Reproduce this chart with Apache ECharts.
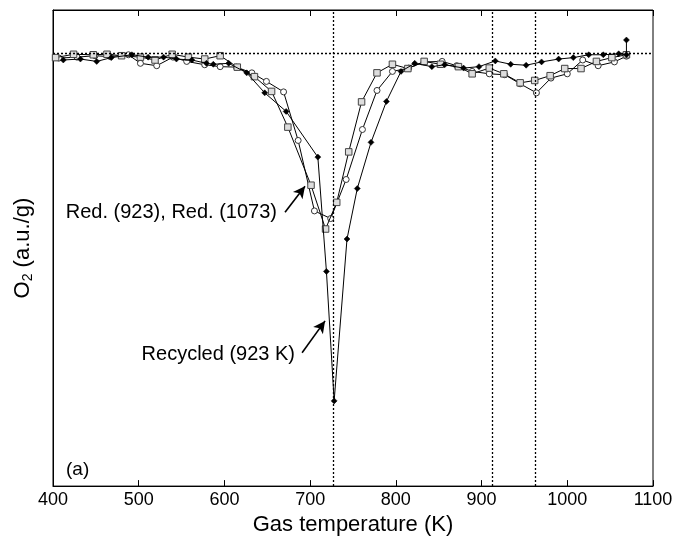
<!DOCTYPE html>
<html>
<head>
<meta charset="utf-8">
<script src="https://cdn.jsdelivr.net/npm/echarts@6/dist/echarts.min.js"></script>
<style>html,body{margin:0;padding:0;background:#fff}#c{width:677px;height:541px}</style>
</head>
<body>
<div id="c"></div>
<script>
const xTicks = [400, 500, 600, 700, 800, 900, 1000, 1100];
const refTemps = [727, 912, 963];
const refLevel = 0.906;

const tempRed923 = [403,424,447,463,480,502,519,539,558,577,595,615,635,655,674,701,718,731,745,760,778,796,814,833,852,873,889,909,926,945,962,980,997,1016,1034,1052,1069];
const o2Red923 = [0.900,0.907,0.906,0.907,0.904,0.901,0.895,0.907,0.901,0.897,0.904,0.880,0.860,0.829,0.754,0.632,0.540,0.596,0.702,0.807,0.868,0.886,0.877,0.892,0.886,0.881,0.866,0.878,0.866,0.847,0.852,0.862,0.877,0.877,0.892,0.900,0.906];

const tempRed1073 = [407,428,449,467,488,502,521,540,556,577,595,614,632,649,669,686,705,724,742,761,778,796,815,833,854,871,889,909,927,945,964,981,1000,1018,1036,1055,1069];
const o2Red1073 = [0.899,0.901,0.904,0.902,0.906,0.888,0.883,0.901,0.892,0.885,0.881,0.880,0.868,0.850,0.828,0.726,0.578,0.562,0.644,0.749,0.831,0.871,0.878,0.891,0.892,0.883,0.871,0.866,0.864,0.845,0.826,0.857,0.866,0.895,0.883,0.891,0.903];

const tempRecycled = [412,432,451,468,492,511,529,544,562,579,587,605,626,647,672,709,719,728,743,755,771,789,806,822,842,857,879,897,916,934,952,970,990,1007,1025,1042,1060,1069,1069];
const o2Recycled = [0.895,0.897,0.892,0.900,0.906,0.901,0.901,0.897,0.895,0.888,0.886,0.888,0.868,0.826,0.787,0.691,0.451,0.179,0.519,0.625,0.722,0.808,0.871,0.888,0.881,0.885,0.878,0.881,0.893,0.886,0.884,0.891,0.897,0.900,0.906,0.906,0.908,0.906,0.937];

const labelRed = 'Red. (923), Red. (1073)';
const labelRecycled = 'Recycled (923 K)';
const arrowRed = [[670.7, 0.575], [694, 0.630]];
const arrowRecycled = [[690.6, 0.280], [717.4, 0.347]];

const zip = (a, b) => a.map((v, i) => [v, b[i]]);
const FONT = 'Liberation Sans, Arial, Helvetica, sans-serif';

const chart = echarts.init(document.getElementById('c'), null, {renderer: 'canvas'});
const refLines = [{yAxis: refLevel}].concat(refTemps.map(t => ({xAxis: t})));

chart.setOption({
  animation: false,
  backgroundColor: '#fff',
  grid: {left: 53, right: 24, top: 10, bottom: 53, show: true, borderColor: '#000', borderWidth: 1, backgroundColor: 'transparent'},
  xAxis: [{
    type: 'value', min: xTicks[0], max: xTicks[xTicks.length - 1], interval: 100,
    name: 'Gas temperature (K)', nameLocation: 'middle', nameGap: 24,
    nameTextStyle: {fontSize: 22, color: '#000', fontFamily: FONT},
    axisLine: {show: true, onZero: false, lineStyle: {color: '#000', width: 1}},
    axisTick: {show: true, inside: true, length: 6, lineStyle: {color: '#000', width: 1}},
    axisLabel: {fontSize: 18, color: '#000', fontFamily: FONT, margin: 5, formatter: v => String(v)},
    splitLine: {show: false}
  }, {
    type: 'value', min: xTicks[0], max: xTicks[xTicks.length - 1], interval: 100, position: 'top',
    axisLine: {show: true, onZero: false, lineStyle: {color: '#000', width: 1}},
    axisTick: {show: true, inside: true, length: 6, lineStyle: {color: '#000', width: 1}},
    axisLabel: {show: false}, splitLine: {show: false}
  }],
  yAxis: {
    type: 'value', min: 0, max: 1,
    name: '{o|O}{s|2}{o| (a.u./g)}', nameLocation: 'middle', nameGap: 18, nameRotate: 90,
    nameTextStyle: {rich: {
      o: {fontSize: 22, color: '#000', fontFamily: FONT},
      s: {fontSize: 14, color: '#000', fontFamily: FONT, verticalAlign: 'bottom', padding: [10, 0, 0, 0]}
    }},
    axisLine: {show: true, onZero: false, lineStyle: {color: '#000', width: 1}},
    axisTick: {show: false}, axisLabel: {show: false}, splitLine: {show: false}
  },
  series: [{
    name: 'Red. (1073)', type: 'line', data: zip(tempRed1073, o2Red1073),
    symbol: 'circle', symbolSize: 6, showAllSymbol: true,
    lineStyle: {color: '#000', width: 1}, itemStyle: {color: '#fff', borderColor: '#333', borderWidth: 1},
    z: 3,
    markLine: {silent: true, symbol: ['none', 'none'], label: {show: false},
      lineStyle: {color: '#000', type: [2, 2], width: 1.3}, data: refLines}
  }, {
    name: 'Red. (923)', type: 'line', data: zip(tempRed923, o2Red923),
    symbol: 'rect', symbolSize: 6.5, showAllSymbol: true,
    lineStyle: {color: '#000', width: 1}, itemStyle: {color: '#ddd', borderColor: '#444', borderWidth: 1},
    z: 4
  }, {
    name: 'Recycled (923 K)', type: 'line', data: zip(tempRecycled, o2Recycled),
    symbol: 'diamond', symbolSize: 6, showAllSymbol: true,
    lineStyle: {color: '#000', width: 1}, itemStyle: {color: '#000', borderColor: '#000', borderWidth: 0.5},
    z: 5,
    markLine: {silent: true, symbol: ['none', 'arrow'], symbolSize: [9, 12], label: {show: false},
      lineStyle: {color: '#000', type: 'solid', width: 1.6},
      data: [
        [{coord: arrowRed[0]}, {coord: arrowRed[1]}],
        [{coord: arrowRecycled[0]}, {coord: arrowRecycled[1]}]
      ]}
  }, {
    name: 'topAxisHolder', type: 'line', xAxisIndex: 1, data: [], silent: true
  }],
  graphic: [
    {type: 'text', left: 66, top: 460, style: {text: '(a)', fontSize: 19, fill: '#000', fontFamily: FONT}},
    {type: 'text', right: 677 - 277, top: 202, style: {text: labelRed, fontSize: 20, fill: '#000', fontFamily: FONT}},
    {type: 'text', right: 677 - 295, top: 344, style: {text: labelRecycled, fontSize: 20, fill: '#000', fontFamily: FONT}}
  ]
});
</script>
</body>
</html>
